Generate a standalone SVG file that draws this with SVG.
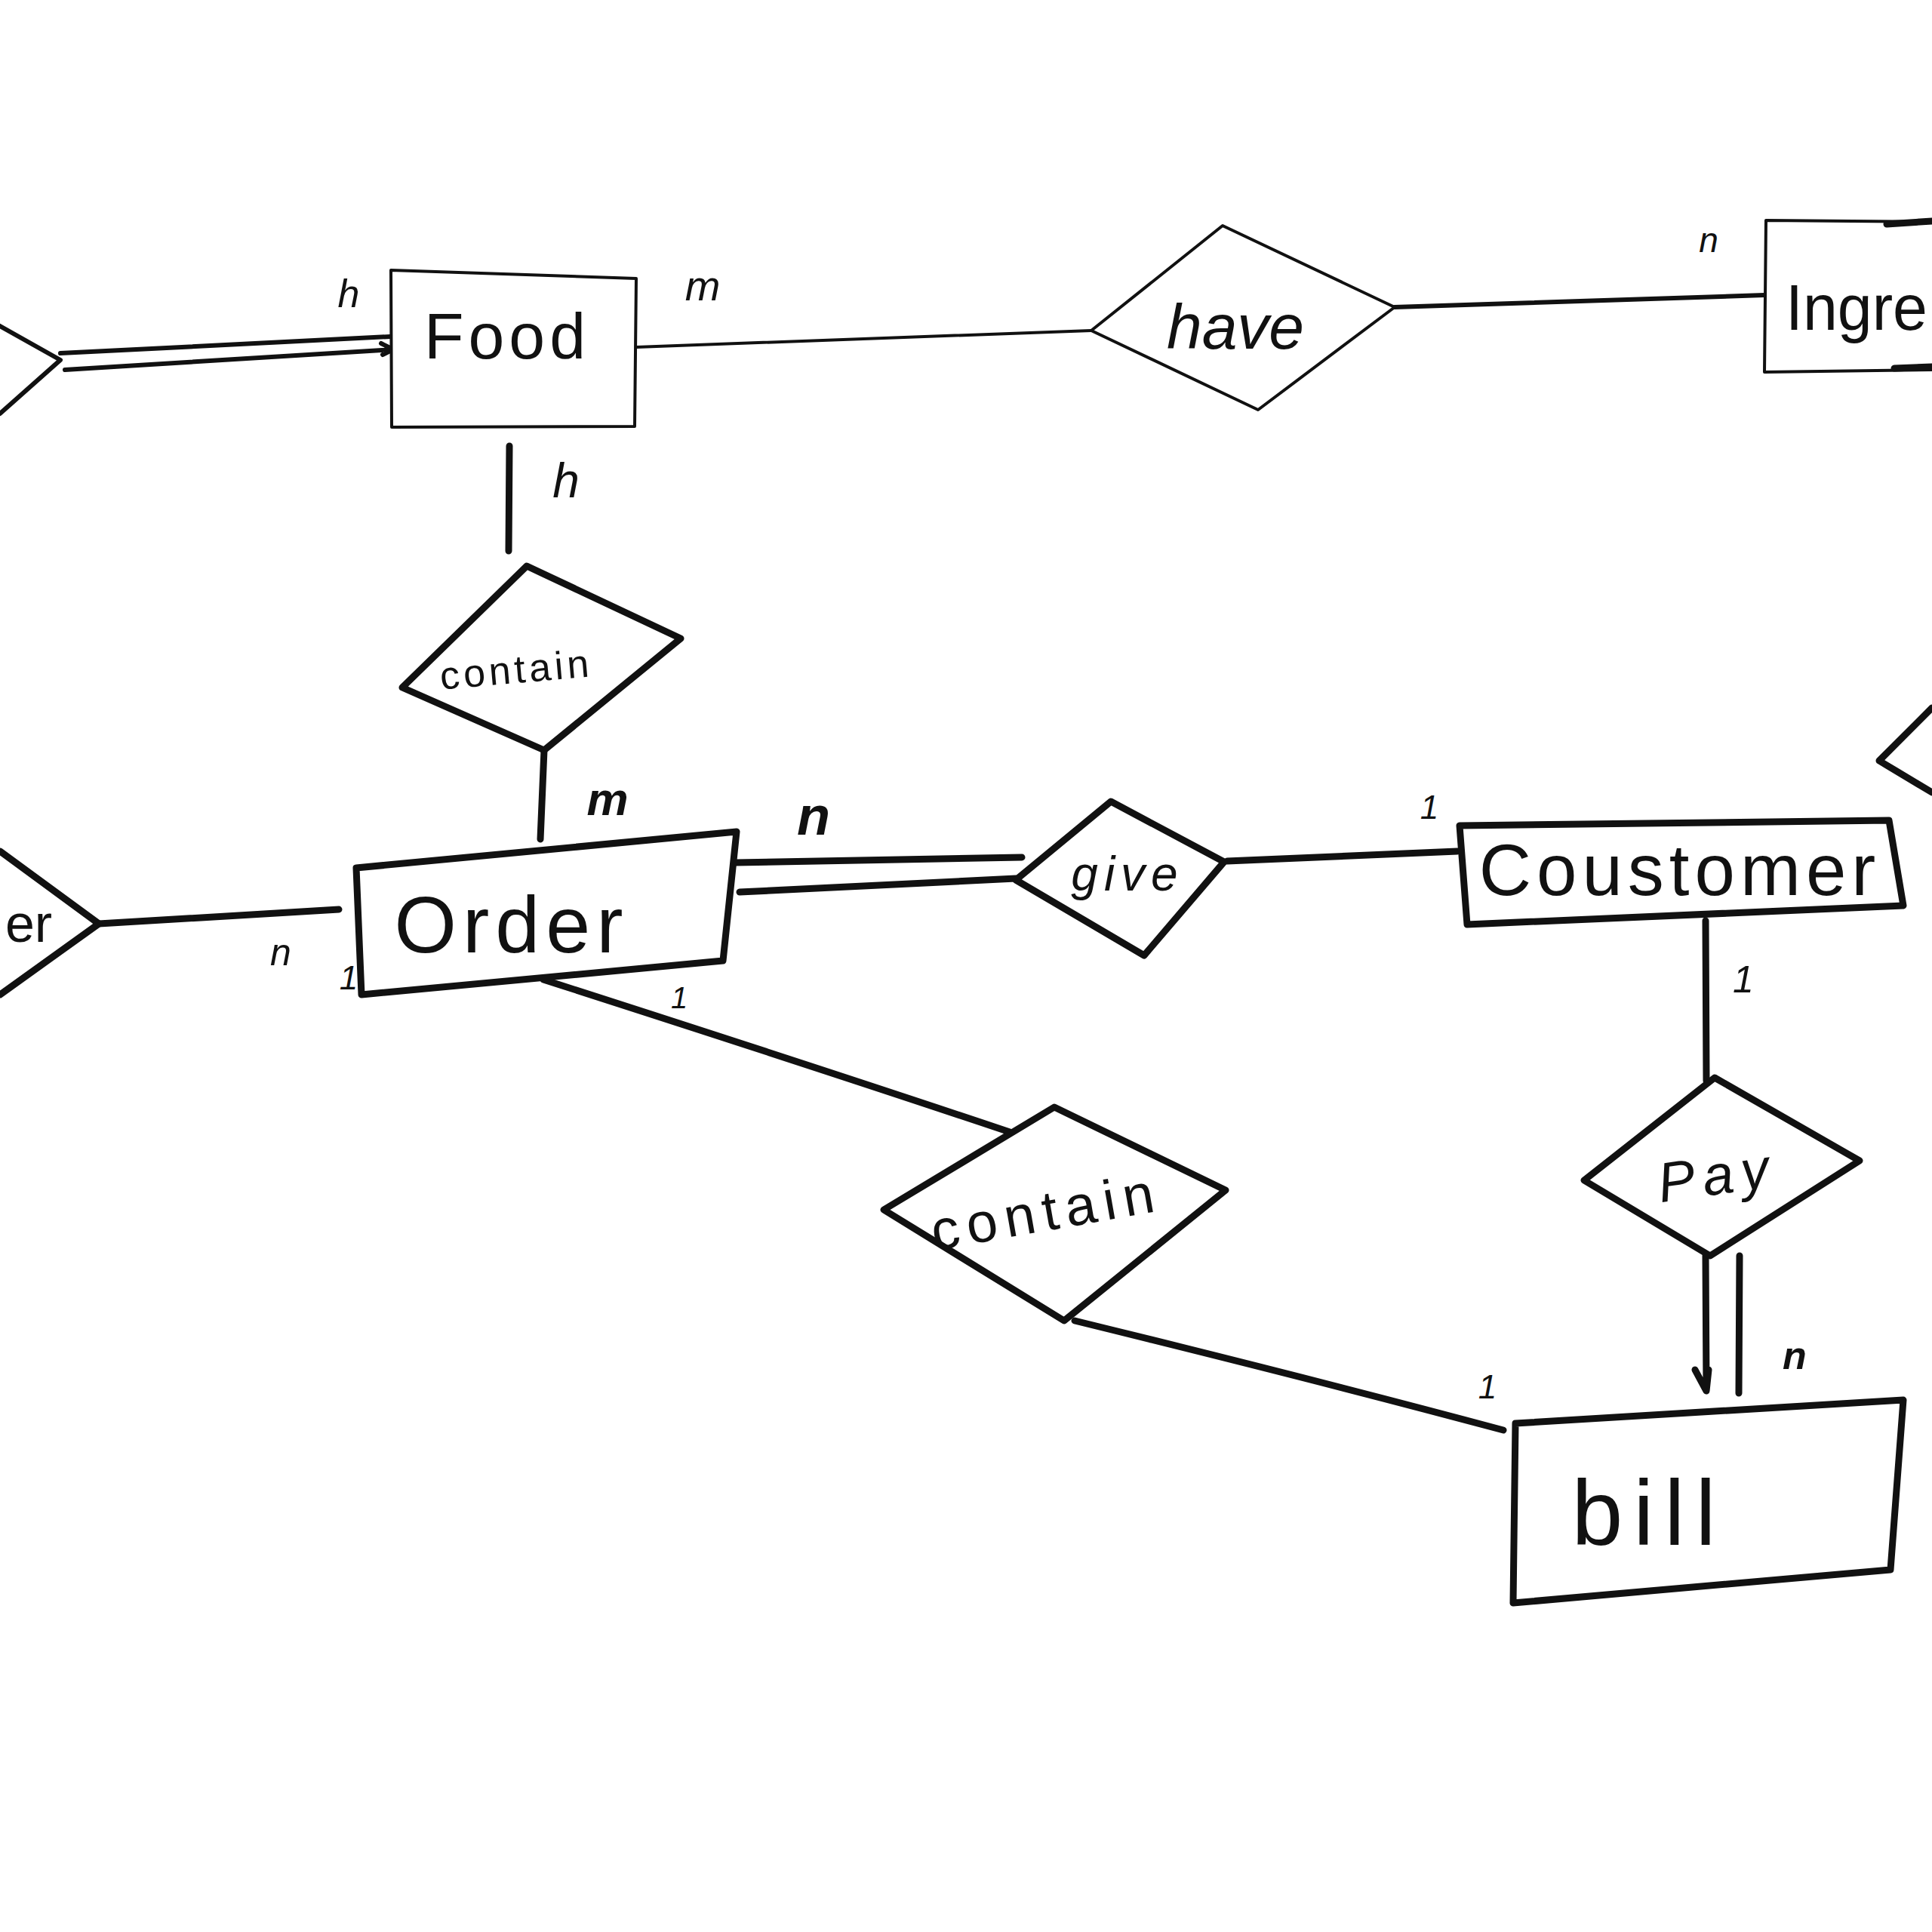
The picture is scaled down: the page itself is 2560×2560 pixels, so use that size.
<svg xmlns="http://www.w3.org/2000/svg" width="2560" height="2560" viewBox="0 0 2560 2560">
<style>
.ln{fill:none;stroke:#111;stroke-linecap:round;stroke-linejoin:round}
.thin{stroke-width:4}
.mid{stroke-width:6}
.thk{stroke-width:9}
.shape{fill:#fff;stroke:#111;stroke-linejoin:round;stroke-linecap:round}
.t{font-family:"Liberation Sans","DejaVu Sans",sans-serif;fill:#111;text-anchor:middle;dominant-baseline:central}
.lab{font-family:"Liberation Sans","DejaVu Sans",sans-serif;fill:#111;text-anchor:middle;dominant-baseline:central;font-style:italic}
</style>
<rect width="2560" height="2560" fill="#fff"/>
<g id="connectors">
<path class="ln mid" d="M80,468 L517,446"/>
<path class="ln mid" d="M86,490 L521,463 M505,455 L521,463 L507,470"/>
<path class="ln thin" d="M843,460 L1446,438"/>
<path class="ln mid" d="M1848,407 L2338,391"/>
<path class="ln thk" d="M675,591 L674,730"/>
<path class="ln thk" d="M721,994 L716,1112"/>
<path class="ln thk" d="M131,1224 L449,1205"/>
<path class="ln thk" d="M975,1143 L1354,1136"/>
<path class="ln thk" d="M980,1182 L1346,1164"/>
<path class="ln thk" d="M1626,1141 L1931,1128"/>
<path class="ln thk" d="M2260,1220 L2261,1432"/>
<path class="ln thk" d="M2260,1664 L2261,1842 M2246,1815 L2261,1843 L2264,1815"/>
<path class="ln thk" d="M2305,1664 L2304,1846"/>
<path class="ln thk" d="M720,1298 Q1100,1420 1338,1500"/>
<path class="ln thk" d="M1424,1750 Q1750,1830 1992,1895"/>
</g>
<g id="diamond-left-top">
<path class="ln mid" d="M0,432 L80,477 L0,548"/>
</g>
<g id="entity-food">
<path class="shape thin" d="M518,358 L843,369 L841,565 L519,566 Z"/>
<text class="t" x="672" y="445" font-size="86" letter-spacing="6">Food</text>
</g>
<g id="rel-have">
<path class="shape thin" d="M1446,438 L1620,299 L1848,407 L1667,543 Z"/>
<text class="t" x="1637" y="433" font-size="84" font-style="italic">have</text>
</g>
<g id="entity-ingredient">
<path class="ln thin" d="M2560,294 L2340,292 L2338,493 L2560,490"/>
<path class="ln thk" d="M2500,297 L2560,293 M2510,488 L2560,486"/>
<text x="2366" y="437" font-family="Liberation Sans, DejaVu Sans, sans-serif" font-size="86" fill="#111" textLength="188" lengthAdjust="spacingAndGlyphs">Ingre</text>
</g>
<g id="rel-contain-1">
<path class="shape thk" d="M698,750 L902,846 L721,994 L533,911 Z"/>
<text class="t" x="684" y="887" font-size="52" letter-spacing="5" transform="rotate(-5 684 887)">contain</text>
</g>
<g id="entity-order">
<path class="shape thk" d="M472,1150 L976,1102 L958,1273 L479,1318 Z"/>
<text class="t" x="678" y="1225" font-size="106" letter-spacing="8">Order</text>
</g>
<g id="diamond-left-order">
<path class="ln thk" d="M0,1128 L131,1224 L0,1318"/>
<text class="t" x="38" y="1224" font-size="70">er</text>
</g>
<g id="rel-give">
<path class="shape thk" d="M1346,1166 L1472,1062 L1622,1142 L1516,1266 Z"/>
<text class="t" x="1494" y="1158" font-size="64" letter-spacing="8" font-style="italic">give</text>
</g>
<g id="entity-customer">
<path class="shape thk" d="M1934,1094 L2503,1087 L2522,1200 L1944,1225 Z"/>
<text class="t" x="2226" y="1152" font-size="96" letter-spacing="7">Coustomer</text>
</g>
<g id="diamond-right">
<path class="ln thk" d="M2560,938 L2490,1008 L2560,1050"/>
</g>
<g id="rel-pay">
<path class="shape thk" d="M2272,1428 L2464,1538 L2266,1664 L2099,1564 Z"/>
<text class="t" x="2275" y="1557" font-size="74" letter-spacing="10" font-style="italic" transform="rotate(-8 2275 1557)">Pay</text>
</g>
<g id="rel-contain-2">
<path class="shape thk" d="M1397,1467 L1624,1577 L1410,1750 L1171,1603 Z"/>
<text class="t" x="1386" y="1605" font-size="74" letter-spacing="10" transform="rotate(-10 1386 1605)">contain</text>
</g>
<g id="entity-bill">
<path class="shape thk" d="M2008,1886 L2522,1855 L2505,2080 L2005,2124 Z"/>
<text class="t" x="2185" y="2005" font-size="122" letter-spacing="14">bill</text>
</g>
<g id="labels">
<text class="lab" x="462" y="389" font-size="52">h</text>
<text class="lab" x="931" y="378" font-size="56">m</text>
<text class="lab" x="750" y="637" font-size="64">h</text>
<text class="lab" x="2264" y="318" font-size="46">n</text>
<text class="lab" x="805" y="1058" font-size="62" font-weight="bold">m</text>
<text class="lab" x="1078" y="1081" font-size="72" font-weight="bold">n</text>
<text class="lab" x="372" y="1262" font-size="50">n</text>
<text class="lab" x="462" y="1295" font-size="44">1</text>
<text class="lab" x="900" y="1322" font-size="40">1</text>
<text class="lab" x="1894" y="1069" font-size="44">1</text>
<text class="lab" x="2310" y="1298" font-size="50">1</text>
<text class="lab" x="2378" y="1796" font-size="52" font-weight="bold">n</text>
<text class="lab" x="1971" y="1837" font-size="44">1</text>
</g>
</svg>
